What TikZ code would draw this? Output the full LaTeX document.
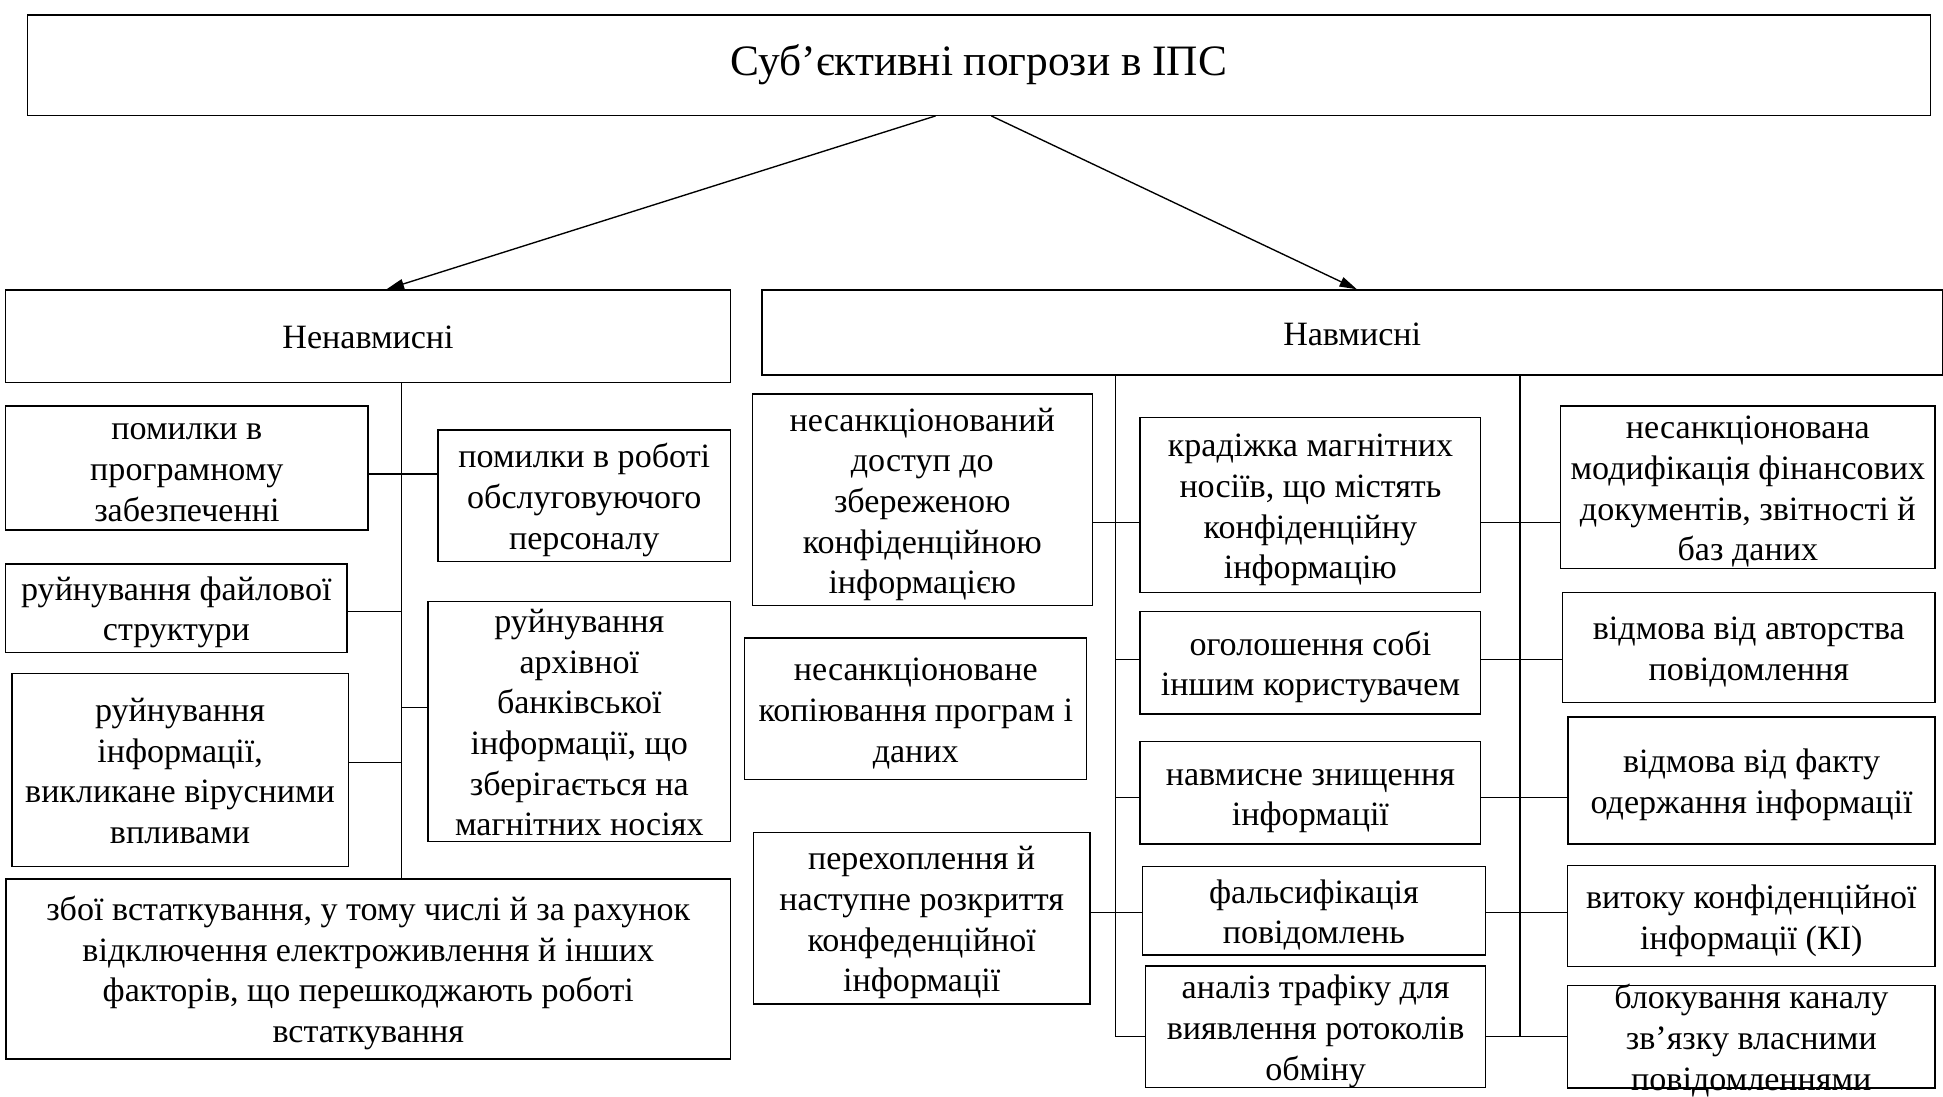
\documentclass[tikz,border=0pt]{standalone}
\usepackage{fontspec}
\setmainfont{Liberation Serif}
\usetikzlibrary{arrows.meta}
% fixed height of the first text line, so that all boxes centre their text alike
\newcommand\fls{\rule{0pt}{26.5pt}}
\begin{document}
\begin{tikzpicture}[x=1pt,y=-1pt,
  box/.style={draw, line width=1.1pt, inner xsep=0pt, inner ysep=-10pt, align=center,
    font=\fontsize{27.5}{32.8}\selectfont,
    execute at end node={\rule[-6.2pt]{0pt}{0pt}}},
  wh/.style n args={2}{minimum width=#1pt, minimum height=#2pt},
  link/.style={line width=1.1pt},
  arr/.style={line width=1.1pt, -{Triangle[length=14pt,width=8pt]}}]
\useasboundingbox (0,0) rectangle (1568,885);

% root and the two groups
\node[draw, line width=1.1pt, inner sep=0pt, wh={1536}{81}, font=\fontsize{35}{40}\selectfont] (title) at (790,52.5) {Суб’єктивні погрози в ІПС};
\node[box, wh={585}{74.5}] (nen) at (297,271.2) {\fls Ненавмисні};
\node[box, wh={952.5}{68.6}] (nav) at (1091.2,268.3) {\fls Навмисні};

% unintentional threats
\node[box, wh={292.4}{100.1}] (L1) at (150.8,377.7) {\fls помилки в\\програмному\\забезпеченні};
\node[box, wh={236}{106.3}] (L2) at (471.5,400.2) {\fls помилки в роботі\\обслуговуючого\\персоналу};
\node[box, wh={275.4}{71.4}] (L3) at (142.3,490.7) {\fls руйнування файлової\\структури};
\node[box, wh={244}{193.6}] (L4) at (467.5,582.4) {\fls руйнування\\архівної\\банківської\\інформації, що\\зберігається на\\магнітних носіях};
\node[box, wh={271.5}{156}] (L5) at (145.3,621.4) {\fls руйнування\\інформації,\\викликане вірусними\\впливами};
\node[box, wh={584.5}{145.3}] (L6) at (297.2,782) {\fls збої встаткування, у тому числі й за рахунок\\відключення електроживлення й інших\\факторів, що перешкоджають роботі\\встаткування};

% intentional threats, left column
\node[box, wh={274.5}{170.8}] (R1) at (744.3,403.4) {\fls несанкціонований\\доступ до\\збереженою\\конфіденційною\\інформацією};
\node[box, wh={276}{114}] (R2) at (739,572) {\fls несанкціоноване\\копіювання програм і\\даних};
\node[box, wh={271.6}{138.5}] (R3) at (743.8,741) {\fls перехоплення й\\наступне розкриття\\конфеденційної\\інформації};

% intentional threats, middle column
\node[box, wh={275}{141.3}] (M1) at (1057.5,407.7) {\fls крадіжка магнітних\\носіїв, що містять\\конфіденційну\\інформацію};
\node[box, wh={275}{82.6}] (M2) at (1057.5,534.9) {\fls оголошення собі\\іншим користувачем};
\node[box, wh={275}{82.5}] (M3) at (1057.5,639.8) {\fls навмисне знищення\\інформації};
\node[box, wh={277}{71.3}] (M4) at (1060.3,735) {\fls фальсифікація\\повідомлень};
\node[box, wh={274.2}{98.3}] (M5) at (1061.7,828.7) {\fls аналіз трафіку для\\виявлення ротоколів\\обміну};

% intentional threats, right column
\node[box, wh={302}{131}] (RR1) at (1410.5,393.1) {\fls несанкціонована\\модифікація фінансових\\документів, звітності й\\баз даних};
\node[box, wh={300.5}{88.5}] (RR2) at (1411.3,522.6) {\fls відмова від авторства\\повідомлення};
\node[box, wh={296}{102.4}] (RR3) at (1413.5,629.8) {\fls відмова від факту\\одержання інформації};
\node[box, wh={296.5}{81.4}] (RR4) at (1413.3,739.3) {\fls витоку конфіденційної\\інформації (КІ)};
\node[box, wh={296.5}{82.6}] (RR5) at (1413.3,836.7) {\fls блокування каналу\\зв’язку власними\\повідомленнями};

% arrows from the root
\coordinate (a1) at (755,0);
\coordinate (b1) at (312,0);
\coordinate (a2) at (800,0);
\coordinate (b2) at (1095,0);
\draw[arr] (title.south -| a1) -- (nen.north -| b1);
\draw[arr] (title.south -| a2) -- (nav.north -| b2);

% left trunk and branches
\coordinate (cl1) at (324,382.5);
\coordinate (cl2) at (324,493.6);
\coordinate (cl3) at (324,571);
\coordinate (cl4) at (324,615.2);
\draw[link] (nen.south -| cl1) -- (L6.north -| cl1);
\draw[link] (L1.east |- cl1) -- (L2.west |- cl1);
\draw[link] (L3.east |- cl2) -- (cl2);
\draw[link] (cl3) -- (L4.west |- cl3);
\draw[link] (L5.east |- cl4) -- (cl4);

% right trunks and branches
\coordinate (r1) at (900.3,421.8);
\coordinate (r2) at (900.3,532);
\coordinate (r3) at (900.3,643.7);
\coordinate (r4) at (900.3,736.5);
\coordinate (r5) at (900.3,836.6);
\coordinate (v2) at (1226.6,836);
\draw[link] (nav.south -| r1) |- (M5.west |- r5);
\draw[link] (nav.south -| v2) -- (v2);
\draw[link] (R1.east |- r1) -- (M1.west |- r1);
\draw[link] (M1.east |- r1) -- (RR1.west |- r1);
\draw[link] (r2) -- (M2.west |- r2);
\draw[link] (M2.east |- r2) -- (RR2.west |- r2);
\draw[link] (r3) -- (M3.west |- r3);
\draw[link] (M3.east |- r3) -- (RR3.west |- r3);
\draw[link] (R3.east |- r4) -- (M4.west |- r4);
\draw[link] (M4.east |- r4) -- (RR4.west |- r4);
\draw[link] (M5.east |- r5) -- (RR5.west |- r5);
\end{tikzpicture}
\end{document}
